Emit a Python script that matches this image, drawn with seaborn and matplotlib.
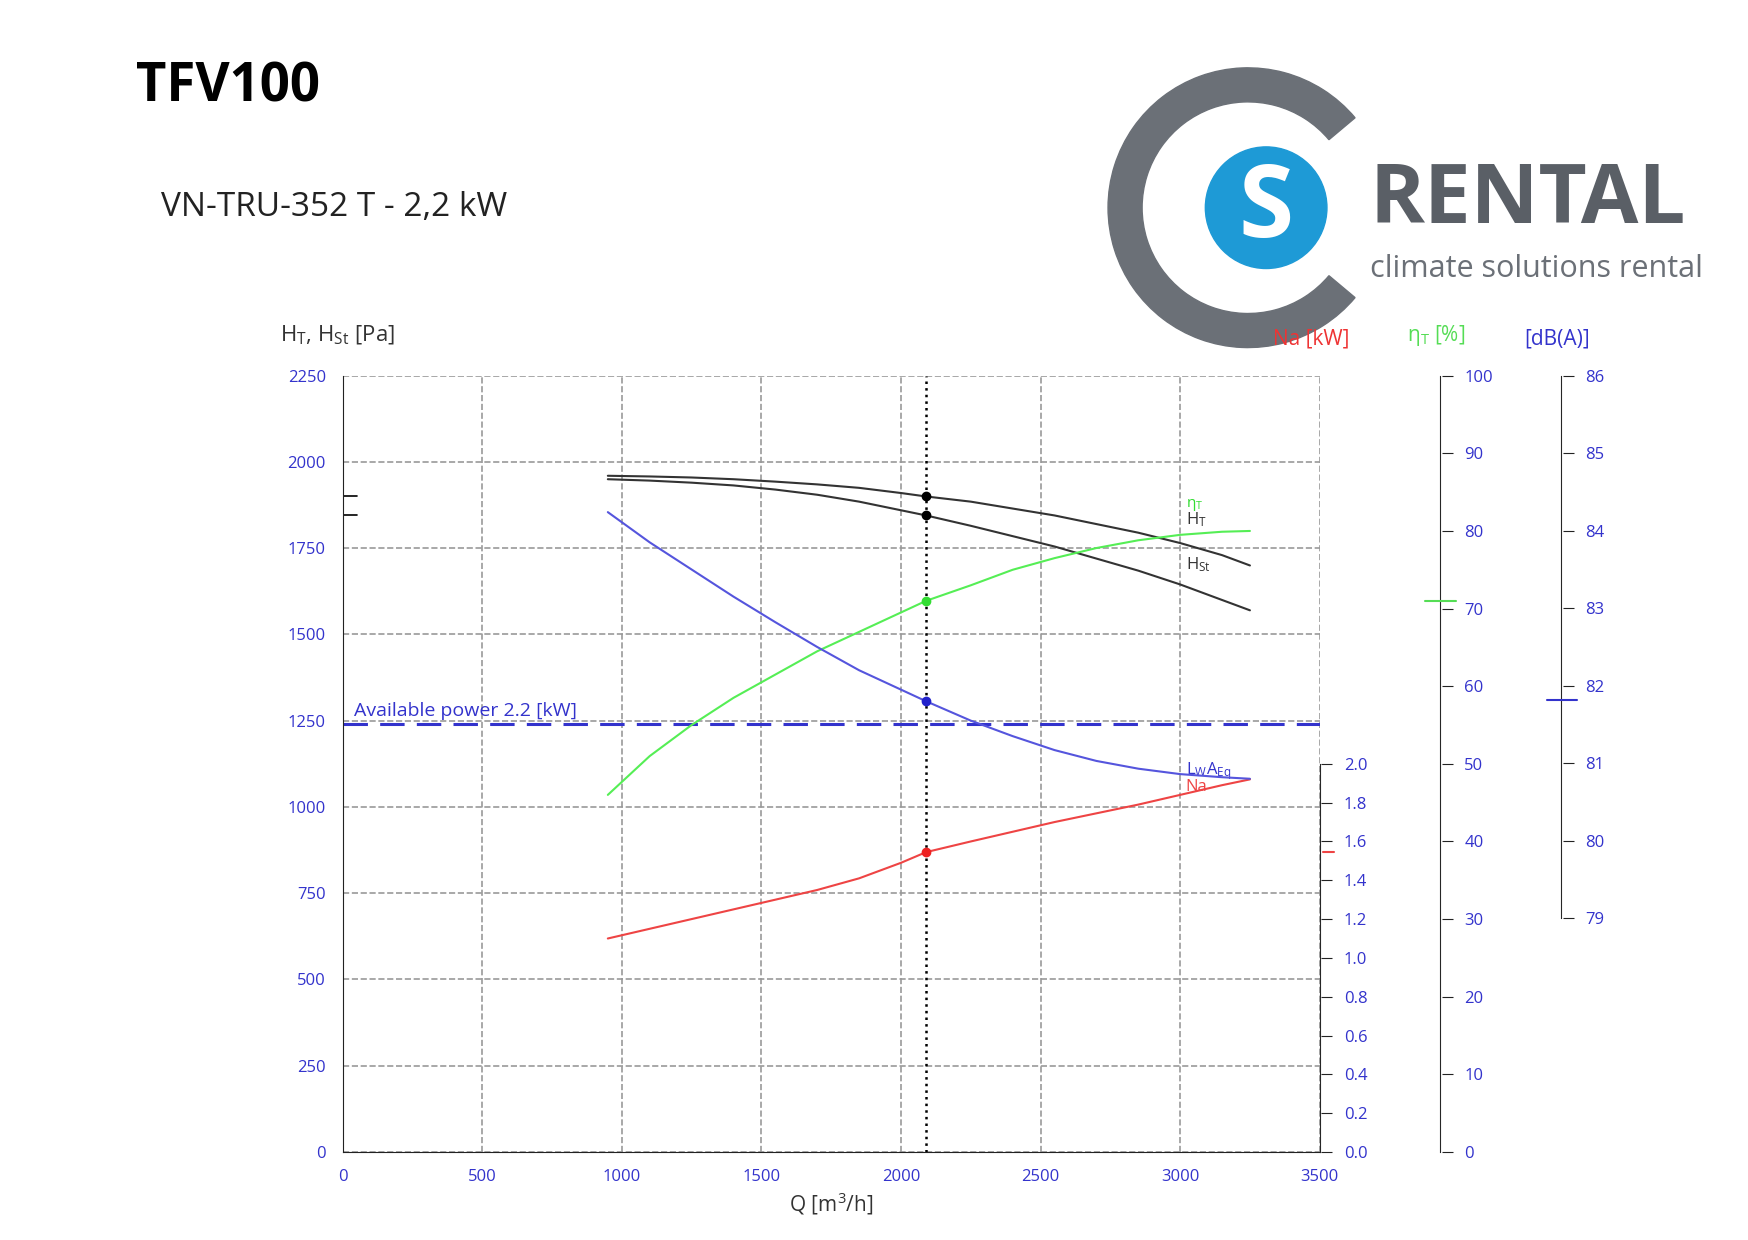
import numpy as np
import seaborn as sns
import matplotlib.pyplot as plt
from matplotlib.patches import Wedge, Circle

sns.set_style('white')
plt.rcParams['font.family'] = ['Open Sans', 'DejaVu Sans']
plt.rcParams['mathtext.default'] = 'regular'

# Curve data
q = [950, 1100, 1250, 1400, 1550, 1700, 1850, 2000, 2090, 2250, 2400, 2550, 2700, 2850, 3000, 3150, 3250]
h_total = [1960, 1958, 1955, 1950, 1943, 1935, 1925, 1910, 1900, 1885, 1865, 1845, 1820, 1795, 1765, 1730, 1700]
h_static = [1950, 1946, 1940, 1932, 1920, 1905, 1885, 1860, 1845, 1815, 1785, 1755, 1720, 1685, 1645, 1600, 1570]
eta = [46, 51, 55, 58.5, 61.5, 64.5, 67, 69.5, 71, 73, 75, 76.5, 77.8, 78.8, 79.5, 79.9, 80]
power = [1.10, 1.15, 1.20, 1.25, 1.30, 1.35, 1.41, 1.49, 1.545, 1.60, 1.65, 1.70, 1.745, 1.79, 1.84, 1.89, 1.92]
sound = [84.24, 83.85, 83.5, 83.15, 82.82, 82.5, 82.2, 81.95, 81.8, 81.55, 81.35, 81.17, 81.03, 80.93, 80.86, 80.82, 80.8]
duty_q = 2090
avail_power = 1240

blue = '#3333cc'
fig = plt.figure(figsize=(17.48, 12.40), dpi=100)
fig.text(0.078, 0.918, 'TFV100', fontsize=38, fontweight='bold', color='black')
fig.text(0.092, 0.826, 'VN-TRU-352 T - 2,2 kW', fontsize=24, color='#222222')

# logo
lg = fig.add_axes([0.57, 0.705, 0.42, 0.255])
lg.set_xlim(-0.3, 4.2); lg.set_ylim(0, 2.6); lg.set_aspect('equal'); lg.axis('off')
lg.add_patch(Wedge((1.0, 1.3), 1.15, 40, 320, width=0.28, color='#6b7077'))
lg.add_patch(Circle((1.15, 1.3), 0.5, color='#1e9ad6'))
lg.text(1.15, 1.28, 'S', fontsize=72, fontweight='bold', color='white', ha='center', va='center')
lg.text(2.0, 1.35, 'RENTAL', fontsize=60, fontweight='bold', color='#5a5f66', va='center')
lg.text(2.0, 0.8, 'climate solutions rental', fontsize=22, color='#6b7077', va='center')

L, R, B, T = 0.196, 0.755, 0.071, 0.697
ax = fig.add_axes([L, B, R - L, T - B])
sns.lineplot(x=q, y=h_total, ax=ax, color='#333333', lw=1.5)
sns.lineplot(x=q, y=h_static, ax=ax, color='#333333', lw=1.5)
ax.set_xlim(0, 3500); ax.set_ylim(0, 2250)
ax.set_xticks(range(0, 3501, 500)); ax.set_yticks(range(0, 2251, 250))
ax.grid(True, ls='--', color='#999999', lw=1.2)
for s in ['top', 'right']:
    ax.spines[s].set_visible(False)
for s in ['left', 'bottom']:
    ax.spines[s].set_color('#222222')
ax.tick_params(axis='both', colors='#222222', labelcolor=blue, labelsize=12, direction='in', length=8, pad=12)
ax.axvline(duty_q, color='black', ls=':', lw=1.8)
ax.axhline(avail_power, color=blue, ls=(0, (8, 4)), lw=2.2)
ax.text(40, 1265, 'Available power 2.2 [kW]', color=blue, fontsize=14)
ax.set_xlabel('Q [m$^3$/h]', fontsize=15, color='#333333')
ax.set_ylabel('')
fig.text(0.16, 0.725, 'H$_T$, H$_{St}$ [Pa]', fontsize=16, color='#333333')
for hv in [np.interp(duty_q, q, h_total), np.interp(duty_q, q, h_static)]:
    ax.plot(duty_q, hv, 'o', color='black', ms=6)
    ax.plot([0, 50], [hv, hv], color='black', lw=1.2)
ax.text(3020, 1820, 'H$_T$', fontsize=12, color='#333333')
ax.text(3020, 1690, 'H$_{St}$', fontsize=12, color='#333333')
ax.text(3020, 1870, '$\\eta_T$', fontsize=11, color='#33dd33')
ax.text(3020, 1095, 'L$_W$A$_{Eq}$', fontsize=12, color=blue)
ax.text(3020, 1045, 'Na', fontsize=12, color='#ee4444')

def side_axis(x, bottom, top, lo, hi, ticks, fmt):
    a = fig.add_axes([x, bottom, 0.001, top - bottom])
    a.set_ylim(lo, hi); a.set_xticks([])
    a.patch.set_alpha(0)
    for s in ['top', 'right', 'bottom']:
        a.spines[s].set_visible(False)
    a.yaxis.tick_right()
    a.set_yticks(ticks); a.set_yticklabels([fmt.format(t) for t in ticks])
    a.tick_params(axis='y', colors='#222222', labelcolor=blue, labelsize=12, length=8, pad=8)
    return a

# power axis
ax_na = fig.add_axes([L, B, R - L, 0.384 - B])
ax_na.patch.set_alpha(0); ax_na.axis('off')
ax_na.set_xlim(0, 3500); ax_na.set_ylim(0, 2.0)
sns.lineplot(x=q, y=power, ax=ax_na, color='#ee4444', lw=1.5)
ax_na.plot(duty_q, np.interp(duty_q, q, power), 'o', color='#ee2222', ms=6)
side_axis(R, B, 0.384, 0, 2.0, np.arange(0, 2.01, 0.2), '{:.1f}')

# efficiency axis
ax_eta = fig.add_axes([L, B, R - L, T - B])
ax_eta.patch.set_alpha(0); ax_eta.axis('off')
ax_eta.set_xlim(0, 3500); ax_eta.set_ylim(0, 100)
sns.lineplot(x=q, y=eta, ax=ax_eta, color='#55ee55', lw=1.5)
ax_eta.plot(duty_q, np.interp(duty_q, q, eta), 'o', color='#33dd33', ms=6)
side_axis(0.824, B, T, 0, 100, range(0, 101, 10), '{}')

# sound axis
db_bottom = 1 - 822 / 1110
ax_db = fig.add_axes([L, db_bottom, R - L, T - db_bottom])
ax_db.patch.set_alpha(0); ax_db.axis('off')
ax_db.set_xlim(0, 3500); ax_db.set_ylim(79, 86)
sns.lineplot(x=q, y=sound, ax=ax_db, color='#5555dd', lw=1.5)
ax_db.plot(duty_q, np.interp(duty_q, q, sound), 'o', color='#2222cc', ms=6)
side_axis(0.893, db_bottom, T, 79, 86, range(79, 87), '{}')

fig.text(0.728, 0.722, 'Na [kW]', color='#ee3333', fontsize=15)
fig.text(0.805, 0.725, '$\\eta_T$ [%]', color='#55dd55', fontsize=15)
fig.text(0.872, 0.722, '[dB(A)]', color=blue, fontsize=15)
fig.add_artist(plt.Line2D([0.815, 0.833], [1 - 538 / 1110] * 2, color='#55dd55', lw=1.5))
fig.add_artist(plt.Line2D([0.885, 0.902], [1 - 627 / 1110] * 2, color=blue, lw=1.5))
fig.add_artist(plt.Line2D([0.757, 0.763], [1 - 763 / 1110] * 2, color='#ee4444', lw=1.5))

fig.savefig('out.png', dpi=100, facecolor='white')
